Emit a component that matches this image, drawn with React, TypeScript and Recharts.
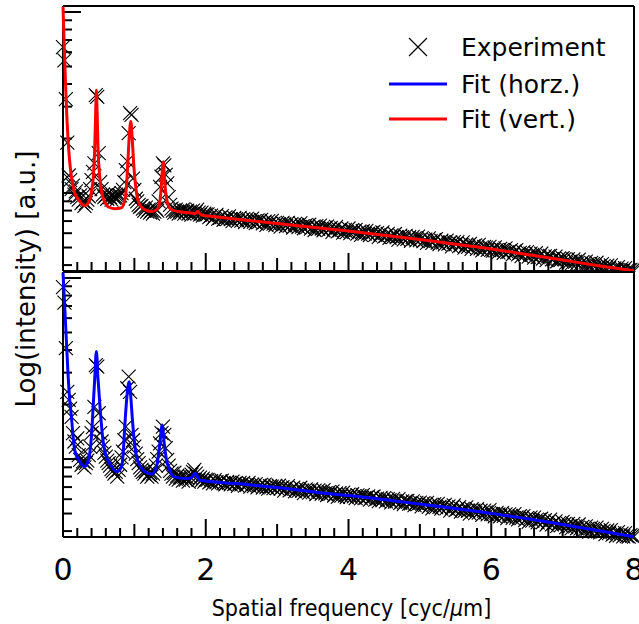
import { ComposedChart, Scatter, Line, XAxis, YAxis, Legend, Label } from "recharts";

// spatial frequency of the measured points [cyc/um], low-frequency part
const nearX = [
  0, 0.02, 0.04, 0.06, 0.08, 0.1, 0.12, 0.14, 0.16, 0.18,
  0.2, 0.22, 0.24, 0.26, 0.28, 0.3, 0.32, 0.34, 0.36, 0.38,
  0.4, 0.42, 0.44, 0.46, 0.48, 0.5, 0.52, 0.54, 0.56, 0.58,
  0.6, 0.62, 0.64, 0.66, 0.68, 0.7, 0.72, 0.74, 0.76, 0.78,
  0.8, 0.82, 0.84, 0.86, 0.88, 0.9, 0.92, 0.94, 0.96, 0.98,
  1, 1.02, 1.04, 1.06, 1.08, 1.1, 1.12, 1.14, 1.16, 1.18,
  1.2, 1.22, 1.24, 1.26, 1.28, 1.3, 1.32, 1.34, 1.36, 1.38,
  1.4, 1.42, 1.44, 1.46, 1.48, 1.5, 1.52, 1.54, 1.56, 1.58,
  1.6, 1.62, 1.64, 1.66, 1.68, 1.7, 1.72, 1.74, 1.76, 1.78,
  1.8, 1.82, 1.84, 1.86, 1.88, 1.9, 1.92, 1.94, 1.96, 1.98,
  2,
];

// spatial frequency of the measured points [cyc/um], tail
const farX = [
  2.025, 2.05, 2.075, 2.1, 2.125, 2.15, 2.175, 2.2, 2.225, 2.25, 2.275, 2.3, 2.325, 2.35, 2.375, 2.4, 2.425, 2.45, 2.475, 2.5,
  2.525, 2.55, 2.575, 2.6, 2.625, 2.65, 2.675, 2.7, 2.725, 2.75, 2.775, 2.8, 2.825, 2.85, 2.875, 2.9, 2.925, 2.95, 2.975, 3,
  3.025, 3.05, 3.075, 3.1, 3.125, 3.15, 3.175, 3.2, 3.225, 3.25, 3.275, 3.3, 3.325, 3.35, 3.375, 3.4, 3.425, 3.45, 3.475, 3.5,
  3.525, 3.55, 3.575, 3.6, 3.625, 3.65, 3.675, 3.7, 3.725, 3.75, 3.775, 3.8, 3.825, 3.85, 3.875, 3.9, 3.925, 3.95, 3.975, 4,
  4.025, 4.05, 4.075, 4.1, 4.125, 4.15, 4.175, 4.2, 4.225, 4.25, 4.275, 4.3, 4.325, 4.35, 4.375, 4.4, 4.425, 4.45, 4.475, 4.5,
  4.525, 4.55, 4.575, 4.6, 4.625, 4.65, 4.675, 4.7, 4.725, 4.75, 4.775, 4.8, 4.825, 4.85, 4.875, 4.9, 4.925, 4.95, 4.975, 5,
  5.025, 5.05, 5.075, 5.1, 5.125, 5.15, 5.175, 5.2, 5.225, 5.25, 5.275, 5.3, 5.325, 5.35, 5.375, 5.4, 5.425, 5.45, 5.475, 5.5,
  5.525, 5.55, 5.575, 5.6, 5.625, 5.65, 5.675, 5.7, 5.725, 5.75, 5.775, 5.8, 5.825, 5.85, 5.875, 5.9, 5.925, 5.95, 5.975, 6,
  6.025, 6.05, 6.075, 6.1, 6.125, 6.15, 6.175, 6.2, 6.225, 6.25, 6.275, 6.3, 6.325, 6.35, 6.375, 6.4, 6.425, 6.45, 6.475, 6.5,
  6.525, 6.55, 6.575, 6.6, 6.625, 6.65, 6.675, 6.7, 6.725, 6.75, 6.775, 6.8, 6.825, 6.85, 6.875, 6.9, 6.925, 6.95, 6.975, 7,
  7.025, 7.05, 7.075, 7.1, 7.125, 7.15, 7.175, 7.2, 7.225, 7.25, 7.275, 7.3, 7.325, 7.35, 7.375, 7.4, 7.425, 7.45, 7.475, 7.5,
  7.525, 7.55, 7.575, 7.6, 7.625, 7.65, 7.675, 7.7, 7.725, 7.75, 7.775, 7.8, 7.825, 7.85, 7.875, 7.9, 7.925, 7.95, 7.975, 8,
];

// measured intensity, vertical profile (top panel)
const vertNear = [
  6.4, 5.4, 3.3, 1.9, 1.25, 1.18, 1.05, 1.1, 0.98, 1.02,
  0.95, 0.92, 0.97, 0.88, 0.9, 0.85, 0.88, 0.92, 0.96, 1.05,
  1.18, 1.31, 1.46, 3.47, 3.4, 1.66, 1.15, 1.05, 0.98, 0.95,
  0.97, 0.93, 1.0, 0.95, 0.92, 0.97, 0.94, 0.98, 0.93, 0.97,
  0.97, 1.0, 1.04, 1.15, 1.34, 1.5, 2.14, 2.76, 2.7, 1.2,
  1.04, 0.93, 0.9, 0.86, 0.84, 0.85, 0.82, 0.8, 0.83, 0.79,
  0.81, 0.78, 0.8, 0.77, 0.79, 0.82, 0.8, 0.9, 1.08, 1.23,
  1.46, 1.42, 1.26, 1.13, 0.95, 0.86, 0.82, 0.8, 0.78, 0.81,
  0.79, 0.77, 0.8, 0.78, 0.81, 0.77, 0.79, 0.8, 0.77, 0.79,
  0.76, 0.8, 0.77, 0.79, 0.81, 0.78, 0.76, 0.78, 0.75, 0.77,
  0.76,
];
const vertFar = [
  0.762, 0.737, 0.75, 0.719, 0.741, 0.758, 0.722, 0.73, 0.745, 0.712, 0.733, 0.717, 0.744, 0.718, 0.699, 0.73, 0.718, 0.701, 0.73, 0.705,
  0.718, 0.69, 0.72, 0.707, 0.693, 0.723, 0.695, 0.682, 0.707, 0.694, 0.71, 0.679, 0.694, 0.667, 0.699, 0.677, 0.702, 0.678, 0.665, 0.685,
  0.672, 0.653, 0.684, 0.673, 0.656, 0.685, 0.66, 0.674, 0.645, 0.676, 0.663, 0.649, 0.679, 0.652, 0.639, 0.664, 0.651, 0.668, 0.636, 0.651,
  0.625, 0.656, 0.635, 0.66, 0.637, 0.623, 0.644, 0.653, 0.628, 0.641, 0.611, 0.632, 0.65, 0.614, 0.622, 0.637, 0.604, 0.626, 0.609, 0.637,
  0.601, 0.623, 0.611, 0.626, 0.597, 0.612, 0.587, 0.615, 0.596, 0.618, 0.597, 0.585, 0.603, 0.611, 0.588, 0.6, 0.572, 0.592, 0.607, 0.574,
  0.582, 0.595, 0.566, 0.584, 0.57, 0.594, 0.57, 0.553, 0.581, 0.571, 0.555, 0.58, 0.559, 0.57, 0.545, 0.572, 0.561, 0.547, 0.574, 0.55,
  0.564, 0.542, 0.553, 0.531, 0.561, 0.543, 0.53, 0.549, 0.557, 0.532, 0.522, 0.545, 0.534, 0.521, 0.546, 0.525, 0.533, 0.508, 0.535, 0.521,
  0.535, 0.509, 0.515, 0.534, 0.5, 0.518, 0.504, 0.523, 0.492, 0.509, 0.514, 0.491, 0.517, 0.495, 0.482, 0.504, 0.499, 0.485, 0.504, 0.485,
  0.481, 0.501, 0.484, 0.47, 0.492, 0.484, 0.468, 0.494, 0.472, 0.474, 0.484, 0.458, 0.476, 0.484, 0.458, 0.467, 0.448, 0.472, 0.457, 0.471,
  0.446, 0.463, 0.455, 0.44, 0.465, 0.443, 0.446, 0.462, 0.435, 0.447, 0.426, 0.448, 0.45, 0.43, 0.432, 0.446, 0.42, 0.435, 0.428, 0.437,
  0.432, 0.413, 0.432, 0.418, 0.407, 0.43, 0.418, 0.407, 0.428, 0.406, 0.415, 0.397, 0.418, 0.405, 0.391, 0.411, 0.405, 0.39, 0.412, 0.392,
  0.387, 0.405, 0.395, 0.38, 0.397, 0.385, 0.399, 0.377, 0.384, 0.375, 0.39, 0.374, 0.382, 0.373, 0.385, 0.373, 0.374, 0.376, 0.373, 0.372,
];

// measured intensity, horizontal profile (bottom panel)
const horzNear = [
  8.9, 7.3, 4.1, 2.35, 2.12, 1.9, 1.71, 1.39, 1.25, 1.17,
  1.3, 1.05, 0.99, 0.93, 0.97, 0.9, 0.95, 0.98, 1.05, 1.17,
  1.39, 1.5, 1.94, 3.3, 3.24, 1.79, 1.39, 1.25, 1.17, 1.08,
  1.03, 0.98, 0.95, 0.92, 0.88, 0.86, 0.83, 0.85, 0.8, 0.87,
  0.93, 1.02, 1.1, 1.27, 1.51, 2.46, 2.85, 2.35, 1.36, 1.27,
  1.17, 1.07, 1.0, 0.95, 0.9, 0.87, 0.85, 0.83, 0.86, 0.8,
  0.82, 0.84, 0.8, 0.83, 0.86, 0.92, 1.0, 1.1, 1.22, 1.39,
  1.51, 1.36, 1.15, 0.99, 0.92, 0.86, 0.83, 0.8, 0.84, 0.78,
  0.81, 0.77, 0.8, 0.79, 0.76, 0.8, 0.77, 0.79, 0.75, 0.8,
  0.82, 0.85, 0.87, 0.83, 0.8, 0.77, 0.79, 0.76, 0.78, 0.75,
  0.77,
];
const horzFar = [
  0.767, 0.744, 0.756, 0.733, 0.764, 0.745, 0.733, 0.752, 0.76, 0.735, 0.725, 0.748, 0.738, 0.724, 0.75, 0.728, 0.737, 0.711, 0.739, 0.725,
  0.739, 0.713, 0.719, 0.738, 0.705, 0.722, 0.709, 0.727, 0.697, 0.713, 0.719, 0.696, 0.722, 0.7, 0.687, 0.709, 0.704, 0.69, 0.71, 0.69,
  0.712, 0.687, 0.7, 0.669, 0.691, 0.708, 0.672, 0.681, 0.695, 0.662, 0.684, 0.667, 0.694, 0.669, 0.649, 0.68, 0.669, 0.652, 0.68, 0.656,
  0.669, 0.64, 0.671, 0.658, 0.643, 0.674, 0.646, 0.633, 0.657, 0.645, 0.661, 0.629, 0.645, 0.618, 0.649, 0.628, 0.653, 0.629, 0.616, 0.636,
  0.619, 0.639, 0.622, 0.608, 0.63, 0.622, 0.606, 0.632, 0.609, 0.612, 0.622, 0.596, 0.614, 0.621, 0.596, 0.605, 0.585, 0.61, 0.594, 0.609,
  0.584, 0.6, 0.593, 0.577, 0.602, 0.581, 0.583, 0.6, 0.572, 0.584, 0.564, 0.585, 0.587, 0.567, 0.569, 0.584, 0.557, 0.572, 0.565, 0.574,
  0.548, 0.57, 0.558, 0.573, 0.544, 0.559, 0.534, 0.562, 0.543, 0.565, 0.544, 0.532, 0.55, 0.558, 0.535, 0.547, 0.519, 0.539, 0.554, 0.522,
  0.529, 0.542, 0.513, 0.531, 0.517, 0.541, 0.518, 0.5, 0.528, 0.518, 0.502, 0.528, 0.506, 0.518, 0.492, 0.519, 0.508, 0.494, 0.522, 0.497,
  0.496, 0.482, 0.504, 0.495, 0.483, 0.503, 0.485, 0.494, 0.472, 0.495, 0.485, 0.473, 0.496, 0.474, 0.464, 0.483, 0.472, 0.484, 0.46, 0.471,
  0.45, 0.474, 0.457, 0.475, 0.458, 0.447, 0.462, 0.468, 0.449, 0.459, 0.435, 0.45, 0.463, 0.436, 0.441, 0.452, 0.427, 0.442, 0.43, 0.45,
  0.439, 0.421, 0.439, 0.426, 0.414, 0.438, 0.425, 0.414, 0.435, 0.413, 0.422, 0.404, 0.425, 0.412, 0.397, 0.418, 0.411, 0.397, 0.418, 0.399,
  0.393, 0.411, 0.401, 0.385, 0.403, 0.39, 0.405, 0.382, 0.389, 0.377, 0.395, 0.379, 0.387, 0.374, 0.39, 0.375, 0.373, 0.38, 0.376, 0.373,
];

// fitted curve, vertical profile
const vertFitX = [
  0, 0.02, 0.04, 0.056, 0.07, 0.09, 0.118, 0.14, 0.164, 0.2, 0.235, 0.3, 0.34, 0.375, 0.4, 0.425,
  0.445, 0.458, 0.468, 0.478, 0.49, 0.515, 0.54, 0.56, 0.6, 0.63, 0.725, 0.82, 0.865, 0.89, 0.91,
  0.93, 0.95, 0.97, 0.987, 1.03, 1.075, 1.146, 1.24, 1.33, 1.37, 1.39, 1.405, 1.42, 1.44, 1.5,
  1.61, 1.8, 1.85, 1.885, 1.94, 2.13, 2.5, 3, 3.5, 4, 4.5, 5, 5.5, 6, 6.5, 7, 7.5, 8,
];
const vertFit = [
  10.7, 6.0, 3.6, 2.53, 2.0, 1.55, 1.23, 1.1, 1.0, 0.94, 0.9, 0.85, 0.87, 0.915, 1.02, 1.23,
  1.8, 2.8, 3.7, 2.8, 1.8, 1.23, 1.02, 0.94, 0.87, 0.84, 0.82, 0.83, 0.915, 1.1, 1.52,
  2.1, 2.48, 2.0, 1.52, 1.0, 0.86, 0.81, 0.79, 0.82, 1.0, 1.3, 1.49, 1.25, 1.0, 0.82,
  0.79, 0.775, 0.77, 0.79, 0.756, 0.74, 0.712, 0.678, 0.647, 0.617, 0.585, 0.554, 0.521, 0.491, 0.458, 0.427, 0.397, 0.372,
];

// fitted curve, horizontal profile
const horzFitX = [
  0, 0.02, 0.047, 0.07, 0.094, 0.118, 0.14, 0.164, 0.235, 0.3, 0.34, 0.375, 0.4, 0.42, 0.445,
  0.468, 0.49, 0.515, 0.56, 0.6, 0.655, 0.75, 0.82, 0.845, 0.865, 0.895, 0.926, 0.95, 0.973, 1.0,
  1.03, 1.12, 1.24, 1.31, 1.35, 1.39, 1.42, 1.45, 1.5, 1.545, 1.73, 1.8, 1.85, 1.9, 1.92,
  2.0, 2.39, 3, 3.6, 4, 5, 6, 7, 8,
];
const horzFit = [
  10.7, 7.5, 4.54, 2.97, 2.12, 1.71, 1.35, 1.12, 0.966, 0.907, 0.95, 1.075, 1.35, 1.87, 2.8,
  3.92, 2.8, 2.03, 1.27, 1.05, 0.947, 0.851, 0.907, 1.1, 1.51, 2.2, 2.67, 2.2, 1.64, 1.25,
  1.03, 0.87, 0.826, 0.907, 1.15, 1.54, 1.2, 0.99, 0.86, 0.8, 0.78, 0.79, 0.834, 0.78, 0.765,
  0.756, 0.734, 0.696, 0.652, 0.629, 0.564, 0.501, 0.435, 0.372,
];

const xTicks = [
  0, 0.2, 0.4, 0.6, 0.8, 1, 1.2, 1.4, 1.6, 1.8, 2, 2.2, 2.4, 2.6, 2.8, 3, 3.2, 3.4, 3.6, 3.8, 4,
  4.2, 4.4, 4.6, 4.8, 5, 5.2, 5.4, 5.6, 5.8, 6, 6.2, 6.4, 6.6, 6.8, 7, 7.2, 7.4, 7.6, 7.8, 8,
];
const xLabels = [0, 2, 4, 6, 8];
const yTicks = [0.4, 0.5, 0.6, 0.7, 0.8, 0.9, 1, 2, 3, 4, 5, 6, 7, 8, 9, 10];
const yMajor = [1, 10];

const FONT = "'DejaVu Sans', sans-serif";
const X_DOMAIN: [number, number] = [0, 8];
const Y_DOMAIN: [number, number] = [0.371, 10.79];
const AXIS_LINE = { stroke: "#000", strokeWidth: 2 };
const PLOT_TOP = 6;
const PLOT_LEFT = 63;
const PLOT_RIGHT_GAP = 5;
const PLOT_HEIGHT = 265;

const rows = (xs: number[], vs: number[]) => xs.map((x, i) => ({ x, v: vs[i] }));

const Cross = (props: any) => {
  const { cx, cy } = props;
  if (cx == null || cy == null) return null;
  const s = 7;
  return (
    <path
      d={`M${cx - s},${cy - s}L${cx + s},${cy + s}M${cx + s},${cy - s}L${cx - s},${cy + s}`}
      stroke="#000"
      strokeWidth={1.1}
      fill="none"
    />
  );
};

function xTickLen(v: number) {
  const r = Math.round(v);
  if (Math.abs(v - r) > 1e-6) return 9;
  return r % 2 === 0 ? 18 : 13;
}

const XTick = ({ x, y, payload, dir, showLabel }: any) => {
  const v = payload.value;
  return (
    <g>
      <line x1={x} x2={x} y1={y} y2={y + dir * xTickLen(v)} stroke="#000" strokeWidth={2} />
      {showLabel && xLabels.includes(v) ? (
        <text x={x} y={y + 43} textAnchor="middle" fontSize={30} fontFamily={FONT} fill="#000">
          {v}
        </text>
      ) : null}
    </g>
  );
};

const YTick = ({ x, y, payload, dir }: any) => {
  const len = yMajor.includes(payload.value) ? 18 : 9;
  return <line x1={x} x2={x + dir * len} y1={y} y2={y} stroke="#000" strokeWidth={2} />;
};

const renderLegend = () => (
  <svg width={250} height={120} style={{ fontFamily: FONT }}>
    <path d="M29,18L47,36M47,18L29,36" stroke="#000" strokeWidth={1.2} fill="none" />
    <text x={81} y={36} fontSize={25} fill="#000">Experiment</text>
    <line x1={9} x2={67} y1={64} y2={64} stroke="#0000ff" strokeWidth={3} />
    <text x={81} y={73} fontSize={25} fill="#000">Fit (horz.)</text>
    <line x1={9} x2={67} y1={99} y2={99} stroke="#ff0000" strokeWidth={3} />
    <text x={81} y={108} fontSize={25} fill="#000">Fit (vert.)</text>
  </svg>
);

const xTitle = (p: any) => {
  const vb = p.viewBox;
  return (
    <text
      transform={`translate(${vb.x + vb.width / 2 + 3},${vb.y + 79}) scale(0.9,1)`}
      textAnchor="middle"
      fontSize={23}
      fontFamily={FONT}
      fill="#000"
    >
      Spatial frequency [cyc/<tspan fontStyle="italic">μ</tspan>m]
    </text>
  );
};

type PanelProps = {
  exp: { x: number; v: number }[];
  fitX: number[];
  fit: number[];
  color: string;
  height: number;
  showLabels: boolean;
  showLegend: boolean;
};

function Panel({ exp, fitX, fit, color, height, showLabels, showLegend }: PanelProps) {
  const bottomAxisHeight = height - PLOT_TOP - PLOT_HEIGHT;
  return (
    <div style={{ position: "relative", width: 639, height }}>
      {/* frame, ticks and measured points */}
      <div style={{ position: "absolute", left: 0, top: 0 }}>
        <ComposedChart width={639} height={height} margin={{ top: PLOT_TOP - 1, right: 0, bottom: 0, left: 0 }}>
          <XAxis
            xAxisId="b"
            type="number"
            dataKey="x"
            domain={X_DOMAIN}
            ticks={xTicks}
            interval={0}
            height={bottomAxisHeight}
            tickSize={0}
            tickMargin={0}
            axisLine={AXIS_LINE}
            tickLine={false}
            tick={(p: any) => <XTick {...p} dir={-1} showLabel={showLabels} />}
          >
            {showLabels ? <Label content={xTitle} /> : null}
          </XAxis>
          <XAxis
            xAxisId="t"
            orientation="top"
            type="number"
            dataKey="x"
            domain={X_DOMAIN}
            ticks={xTicks}
            interval={0}
            height={1}
            tickSize={0}
            tickMargin={0}
            axisLine={AXIS_LINE}
            tickLine={false}
            tick={(p: any) => <XTick {...p} dir={1} showLabel={false} />}
          />
          <YAxis
            yAxisId="l"
            type="number"
            dataKey="v"
            scale="log"
            domain={Y_DOMAIN}
            ticks={yTicks}
            interval={0}
            width={PLOT_LEFT}
            tickSize={0}
            tickMargin={0}
            axisLine={AXIS_LINE}
            tickLine={false}
            tick={(p: any) => <YTick {...p} dir={1} />}
          />
          <YAxis
            yAxisId="r"
            orientation="right"
            type="number"
            dataKey="v"
            scale="log"
            domain={Y_DOMAIN}
            ticks={yTicks}
            interval={0}
            width={PLOT_RIGHT_GAP}
            tickSize={0}
            tickMargin={0}
            axisLine={AXIS_LINE}
            tickLine={false}
            tick={(p: any) => <YTick {...p} dir={-1} />}
          />
          <Scatter xAxisId="b" yAxisId="l" data={exp} dataKey="v" shape={Cross} isAnimationActive={false} />
          {showLegend ? (
            <Legend
              layout="horizontal"
              verticalAlign="middle"
              align="center"
              content={renderLegend}
              wrapperStyle={{ position: "absolute", left: 380, top: 20, width: 250, height: 120 }}
            />
          ) : null}
        </ComposedChart>
      </div>
      {/* fitted curve, drawn over the points */}
      <div style={{ position: "absolute", left: 0, top: 0 }}>
        <ComposedChart
          width={639}
          height={height}
          margin={{ top: PLOT_TOP, right: PLOT_RIGHT_GAP, bottom: bottomAxisHeight, left: PLOT_LEFT }}
        >
          <XAxis type="number" dataKey="x" domain={X_DOMAIN} hide />
          <YAxis type="number" dataKey="v" scale="log" domain={Y_DOMAIN} hide />
          <Line
            data={rows(fitX, fit)}
            dataKey="v"
            type="monotone"
            stroke={color}
            strokeWidth={3}
            dot={false}
            activeDot={false}
            isAnimationActive={false}
          />
        </ComposedChart>
      </div>
    </div>
  );
}

export default function App() {
  const vertRows = [...rows(nearX, vertNear), ...rows(farX, vertFar)];
  const horzRows = [...rows(nearX, horzNear), ...rows(farX, horzFar)];
  return (
    <div
      style={{
        position: "absolute",
        left: 0,
        top: 0,
        width: 639,
        height: 624,
        background: "#fff",
        fontFamily: FONT,
      }}
    >
      <div style={{ position: "absolute", left: 0, top: 0 }}>
        <Panel
          exp={vertRows}
          fitX={vertFitX}
          fit={vertFit}
          color="#ff0000"
          height={272}
          showLabels={false}
          showLegend={true}
        />
      </div>
      <div style={{ position: "absolute", left: 0, top: 266 }}>
        <Panel
          exp={horzRows}
          fitX={horzFitX}
          fit={horzFit}
          color="#0000ff"
          height={358}
          showLabels={true}
          showLegend={false}
        />
      </div>
      <svg style={{ position: "absolute", left: 0, top: 0 }} width={60} height={624}>
        <text
          transform="translate(35,279) rotate(-90)"
          textAnchor="middle"
          fontSize={26}
          fontFamily={FONT}
          fill="#000"
        >
          Log(intensity) [a.u.]
        </text>
      </svg>
    </div>
  );
}
